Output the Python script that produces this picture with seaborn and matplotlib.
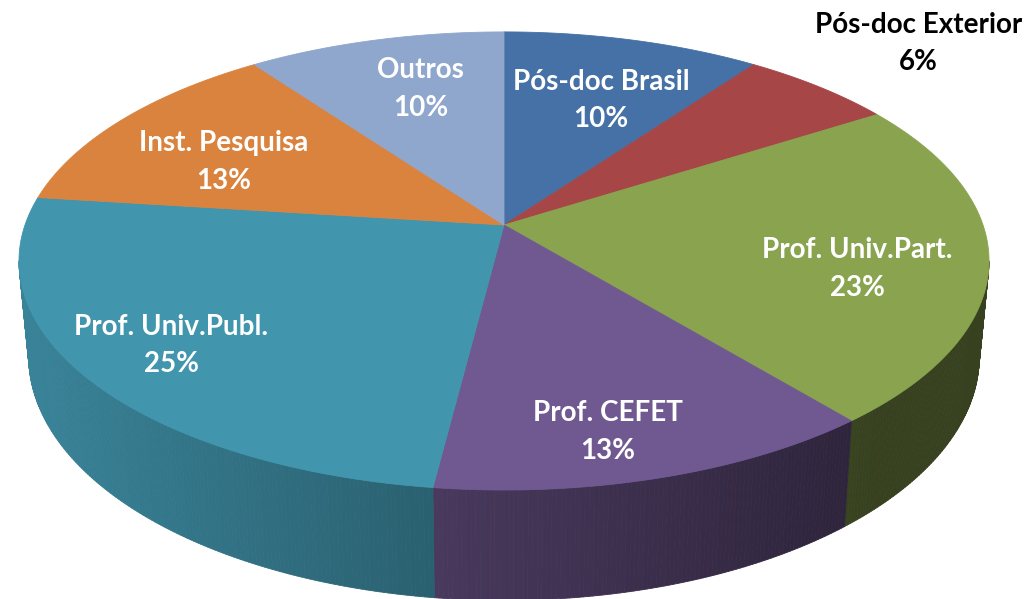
import numpy as np
import matplotlib
matplotlib.use("Agg")
import matplotlib.pyplot as plt
from matplotlib.collections import PolyCollection
from matplotlib.colors import to_rgb
import seaborn as sns

# data, clockwise from 12 o'clock
labels = ["Pós-doc Brasil", "Pós-doc Exterior", "Prof. Univ.Part.", "Prof. CEFET",
          "Prof. Univ.Publ.", "Inst. Pesquisa", "Outros"]
shares = [10, 6, 23, 13, 25, 13, 10]
colors = ["#4571A6", "#A64646", "#89A34F", "#705890", "#4195AD", "#D9833E", "#8FA6CD"]

# label layout: radius in pie units and small angle nudge (deg)
label_r = [0.65, 1.36, 0.74, 0.83, 0.81, 0.68, 0.70]
label_nudge = [2, 0, 6, 3, 0, -5, 2]
label_outside = [False, True, False, False, False, False, False]

# tilted pie projection (pixels)
CX, CY = 504, 225
A, B, K = 479, 223.4, 0.157
DEPTH = 93
SHRINK = 0.98


def project(theta, r=1.0, drop=False):
    u = r * np.sin(theta)
    v = -r * np.cos(theta)
    w = 1 - K * v
    x = A * u / w
    y = B * v / w
    if drop:
        x = x * SHRINK
        y = y + DEPTH / w
    return CX + x, CY + y


sns.set_theme(style="white")
plt.rcParams['font.family'] = ['Lato', 'DejaVu Sans']

fig = plt.figure(figsize=(10.36, 5.99), dpi=100)
ax = fig.add_axes([0, 0, 1, 1])
ax.set_xlim(0, 1036)
ax.set_ylim(599, 0)
ax.axis('off')

edges = 2 * np.pi * np.concatenate([[0], np.cumsum(shares)]) / np.sum(shares)
vis_lo = np.arccos(-K)
vis_hi = 2 * np.pi - vis_lo
x_ext = A / np.sqrt(1 - K ** 2)

# side walls, shaded darker to the right
quads, qcols = [], []
for i, c in enumerate(colors):
    t0, t1 = max(edges[i], vis_lo), min(edges[i + 1], vis_hi)
    if t1 <= t0:
        continue
    ts = np.linspace(t0, t1, max(int((t1 - t0) * 120), 2))
    xt, yt = project(ts)
    xb, yb = project(ts, drop=True)
    base = np.array(to_rgb(c))
    for j in range(len(ts) - 1):
        quads.append([(xt[j], yt[j]), (xt[j + 1], yt[j + 1]),
                      (xb[j + 1], yb[j + 1]), (xb[j], yb[j])])
        xn = ((xt[j] + xt[j + 1]) / 2 - CX) / x_ext
        shade = np.clip(0.608 - 0.272 * xn, 0.40, 1.0)
        qcols.append(base * shade)
ax.add_collection(PolyCollection(quads, facecolors=qcols, edgecolors=qcols,
                                 linewidths=0.6, zorder=1))

# top faces
faces = []
for i in range(len(shares)):
    ts = np.linspace(edges[i], edges[i + 1], max(int((edges[i + 1] - edges[i]) * 80), 3))
    xs, ys = project(ts)
    faces.append([(CX, CY)] + list(zip(xs, ys)))
ax.add_collection(PolyCollection(faces, facecolors=colors, edgecolors=colors,
                                 linewidths=0.6, zorder=2))

# labels
for i, (lab, val) in enumerate(zip(labels, shares)):
    mid = (edges[i] + edges[i + 1]) / 2 + np.radians(label_nudge[i])
    lx, ly = project(mid, r=label_r[i])
    ax.text(lx, ly, f"{lab}\n{val}%", ha='center', va='center',
            fontsize=20, fontweight='bold', linespacing=1.55,
            color='black' if label_outside[i] else 'white', zorder=3)

fig.savefig("out.png", dpi=100)
